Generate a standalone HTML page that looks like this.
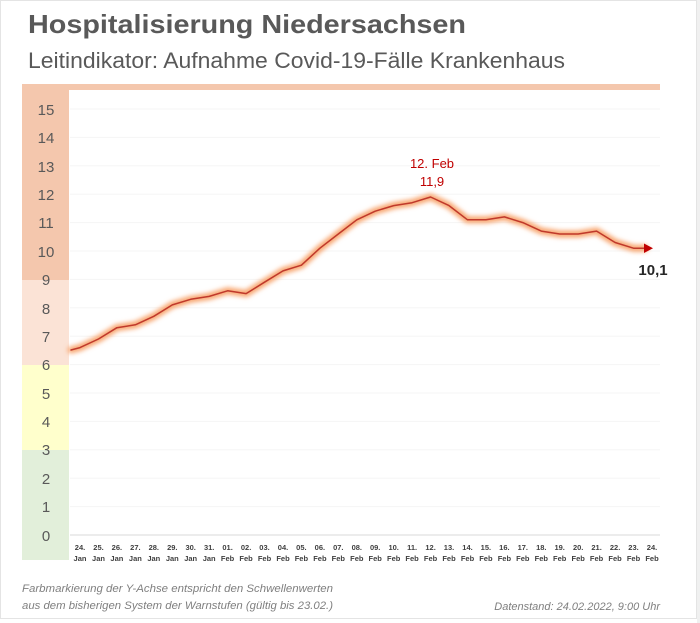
<!DOCTYPE html>
<html><head><meta charset="utf-8"><style>
body{margin:0;background:#fff;}
svg{display:block;font-family:"Liberation Sans",sans-serif;}
</style></head><body>
<svg width="700" height="623" viewBox="0 0 700 623" xmlns="http://www.w3.org/2000/svg">
<defs><filter id="g" x="-10%" y="-10%" width="120%" height="120%"><feGaussianBlur stdDeviation="2.5"/></filter></defs>
<rect x="0" y="0" width="700" height="623" fill="#fff"/>
<rect x="0.5" y="0.5" width="696" height="618" fill="#fff" stroke="#e4e4e4"/>
<rect x="697" y="0" width="3" height="623" fill="#f0f0f0"/>
<text x="28" y="33" font-size="26" font-weight="bold" fill="#595959" textLength="438" lengthAdjust="spacingAndGlyphs">Hospitalisierung Niedersachsen</text>
<text x="28" y="68" font-size="22" fill="#595959" textLength="537" lengthAdjust="spacingAndGlyphs">Leitindikator: Aufnahme Covid-19-Fälle Krankenhaus</text>
<rect x="22" y="84" width="638" height="6" fill="#f4c7ad"/>
<rect x="22" y="84" width="47" height="196" fill="#f4c7ad"/>
<rect x="22" y="280" width="47" height="85" fill="#fbe3d6"/>
<rect x="22" y="365" width="47" height="85" fill="#ffffcc"/>
<rect x="22" y="450" width="47" height="110" fill="#e2efda"/>
<g stroke="#f5f5f5" stroke-width="1">
<line x1="70" x2="660" y1="109" y2="109"/><line x1="70" x2="660" y1="137.4" y2="137.4"/><line x1="70" x2="660" y1="165.8" y2="165.8"/><line x1="70" x2="660" y1="194.2" y2="194.2"/><line x1="70" x2="660" y1="222.6" y2="222.6"/><line x1="70" x2="660" y1="251" y2="251"/><line x1="70" x2="660" y1="279.4" y2="279.4"/><line x1="70" x2="660" y1="307.8" y2="307.8"/><line x1="70" x2="660" y1="336.2" y2="336.2"/><line x1="70" x2="660" y1="364.6" y2="364.6"/><line x1="70" x2="660" y1="393" y2="393"/><line x1="70" x2="660" y1="421.4" y2="421.4"/><line x1="70" x2="660" y1="449.8" y2="449.8"/><line x1="70" x2="660" y1="478.2" y2="478.2"/><line x1="70" x2="660" y1="506.6" y2="506.6"/>
</g>
<line x1="70" x2="660" y1="535" y2="535" stroke="#d9d9d9"/>
<g font-size="15" fill="#595959" text-anchor="middle">
<text x="46" y="115">15</text><text x="46" y="143">14</text><text x="46" y="172">13</text><text x="46" y="200">12</text><text x="46" y="228">11</text><text x="46" y="257">10</text><text x="46" y="285">9</text><text x="46" y="314">8</text><text x="46" y="342">7</text><text x="46" y="370">6</text><text x="46" y="399">5</text><text x="46" y="427">4</text><text x="46" y="455">3</text><text x="46" y="484">2</text><text x="46" y="512">1</text><text x="46" y="541">0</text>
</g>
<g font-size="7.5" font-weight="bold" fill="#404040" text-anchor="middle">
<text y="550"><tspan x="80">24.</tspan><tspan x="98.5">25.</tspan><tspan x="116.9">26.</tspan><tspan x="135.4">27.</tspan><tspan x="153.8">28.</tspan><tspan x="172.3">29.</tspan><tspan x="190.7">30.</tspan><tspan x="209.2">31.</tspan><tspan x="227.6">01.</tspan><tspan x="246.1">02.</tspan><tspan x="264.5">03.</tspan><tspan x="283">04.</tspan><tspan x="301.4">05.</tspan><tspan x="319.9">06.</tspan><tspan x="338.3">07.</tspan><tspan x="356.8">08.</tspan><tspan x="375.2">09.</tspan><tspan x="393.7">10.</tspan><tspan x="412.1">11.</tspan><tspan x="430.6">12.</tspan><tspan x="449">13.</tspan><tspan x="467.5">14.</tspan><tspan x="485.9">15.</tspan><tspan x="504.4">16.</tspan><tspan x="522.8">17.</tspan><tspan x="541.3">18.</tspan><tspan x="559.7">19.</tspan><tspan x="578.2">20.</tspan><tspan x="596.6">21.</tspan><tspan x="615.1">22.</tspan><tspan x="633.5">23.</tspan><tspan x="652">24.</tspan></text>
<text y="561"><tspan x="80">Jan</tspan><tspan x="98.5">Jan</tspan><tspan x="116.9">Jan</tspan><tspan x="135.4">Jan</tspan><tspan x="153.8">Jan</tspan><tspan x="172.3">Jan</tspan><tspan x="190.7">Jan</tspan><tspan x="209.2">Jan</tspan><tspan x="227.6">Feb</tspan><tspan x="246.1">Feb</tspan><tspan x="264.5">Feb</tspan><tspan x="283">Feb</tspan><tspan x="301.4">Feb</tspan><tspan x="319.9">Feb</tspan><tspan x="338.3">Feb</tspan><tspan x="356.8">Feb</tspan><tspan x="375.2">Feb</tspan><tspan x="393.7">Feb</tspan><tspan x="412.1">Feb</tspan><tspan x="430.6">Feb</tspan><tspan x="449">Feb</tspan><tspan x="467.5">Feb</tspan><tspan x="485.9">Feb</tspan><tspan x="504.4">Feb</tspan><tspan x="522.8">Feb</tspan><tspan x="541.3">Feb</tspan><tspan x="559.7">Feb</tspan><tspan x="578.2">Feb</tspan><tspan x="596.6">Feb</tspan><tspan x="615.1">Feb</tspan><tspan x="633.5">Feb</tspan><tspan x="652">Feb</tspan></text>
</g>
<g fill="none" stroke-linejoin="round" stroke-linecap="round">
<polyline filter="url(#g)" stroke="#f8a56e" stroke-width="7" points="71,350 80,347.6 98.5,339 116.9,327.7 135.4,324.8 153.8,316.3 172.3,304.9 190.7,299.3 209.2,296.4 227.6,290.8 246.1,293.6 264.5,282.2 283,270.9 301.4,265.2 319.9,248.2 338.3,234 356.8,219.8 375.2,211.2 393.7,205.6 412.1,202.7 430.6,197 449,205.6 467.5,219.8 485.9,219.8 504.4,216.9 522.8,222.6 541.3,231.1 559.7,234 578.2,234 596.6,231.1 615.1,242.5 633.5,248.2 645,248.2"/>
<polyline stroke="#c0392b" stroke-width="1.5" points="71,350 80,347.6 98.5,339 116.9,327.7 135.4,324.8 153.8,316.3 172.3,304.9 190.7,299.3 209.2,296.4 227.6,290.8 246.1,293.6 264.5,282.2 283,270.9 301.4,265.2 319.9,248.2 338.3,234 356.8,219.8 375.2,211.2 393.7,205.6 412.1,202.7 430.6,197 449,205.6 467.5,219.8 485.9,219.8 504.4,216.9 522.8,222.6 541.3,231.1 559.7,234 578.2,234 596.6,231.1 615.1,242.5 633.5,248.2 645,248.2"/>
</g>
<polygon points="644,243.5 653,248.2 644,253" fill="#c00000"/>
<text x="432" y="168" font-size="13" fill="#c00000" text-anchor="middle">12. Feb</text>
<text x="432" y="186" font-size="13" fill="#c00000" text-anchor="middle">11,9</text>
<text x="653" y="275" font-size="15" font-weight="bold" fill="#262626" text-anchor="middle">10,1</text>
<g font-size="11" font-style="italic" fill="#7f7f7f">
<text x="22" y="592" textLength="311" lengthAdjust="spacingAndGlyphs">Farbmarkierung der Y-Achse entspricht den Schwellenwerten</text>
<text x="22" y="609" textLength="311" lengthAdjust="spacingAndGlyphs">aus dem bisherigen System der Warnstufen (gültig bis 23.02.)</text>
<text x="660" y="610" text-anchor="end">Datenstand: 24.02.2022, 9:00 Uhr</text>
</g>
</svg>
</body></html>
